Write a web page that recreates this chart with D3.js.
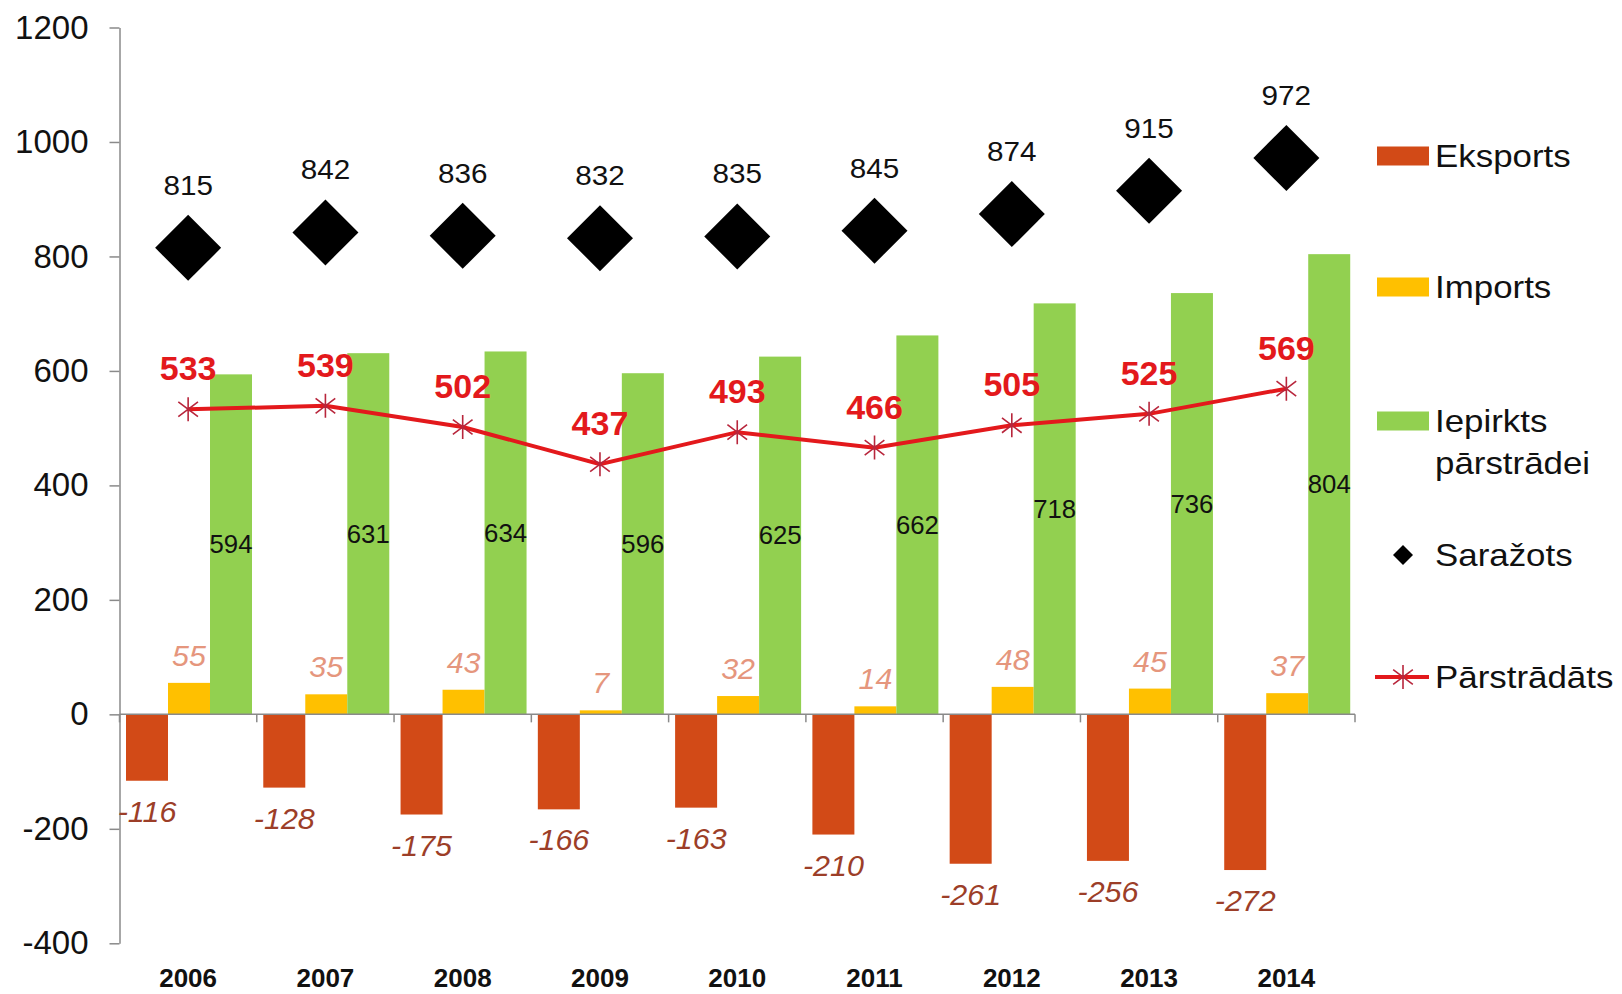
<!DOCTYPE html>
<html>
<head>
<meta charset="utf-8">
<script src="https://cdn.jsdelivr.net/npm/d3@7"></script>
<style>
  body { margin: 0; background: #fff; }
  text { font-family: "Liberation Sans", Arial, sans-serif; }
</style>
</head>
<body>
<svg id="chart" width="1622" height="994"></svg>
<script>
const years = ["2006", "2007", "2008", "2009", "2010", "2011", "2012", "2013", "2014"];
const eksports = [-116, -128, -175, -166, -163, -210, -261, -256, -272];
const imports = [55, 35, 43, 7, 32, 14, 48, 45, 37];
const iepirkts = [594, 631, 634, 596, 625, 662, 718, 736, 804];
const sarazots = [815, 842, 836, 832, 835, 845, 874, 915, 972];
const parstradats = [533, 539, 502, 437, 493, 466, 505, 525, 569];
const yTicks = [-400, -200, 0, 200, 400, 600, 800, 1000, 1200];

const colors = { eksports: "#d24a17", imports: "#ffc000", iepirkts: "#92d050", line: "#e3191c" };

const svg = d3.select("#chart");

const x = d3.scaleBand().domain(years).range([119.5, 1355]).padding(0);
const xBar = d3.scaleBand().domain(["eksports", "imports", "iepirkts"]).range([6.5, 132.5]);
const y = d3.scaleLinear().domain([-400, 1200]).range([943.3, 27.5]);

// little helper: place a text and stretch it a bit horizontally like the original
function place(sel, px, py, sx) {
  return sel.attr("transform", d => `translate(${px(d)},${py(d)}) scale(${sx},1)`);
}

// y axis
const yAxis = svg.append("g")
  .attr("transform", `translate(${x.range()[0]},0)`)
  .call(d3.axisLeft(y).tickValues(yTicks).tickFormat(d => String(d))
    .tickSize(10).tickSizeOuter(0).tickPadding(21));
yAxis.select(".domain").attr("stroke", "#8a8a8a").attr("stroke-width", 1.5);
yAxis.selectAll(".tick line").attr("stroke", "#8a8a8a").attr("stroke-width", 1.5);
yAxis.selectAll(".tick text")
  .attr("font-family", "Liberation Sans, Arial, sans-serif")
  .attr("font-size", 33).attr("fill", "#111");

// bars
const rows = years.map((yr, i) => ({ year: yr, eksports: eksports[i], imports: imports[i], iepirkts: iepirkts[i] }));
const groups = svg.append("g").selectAll("g").data(rows).join("g")
  .attr("transform", d => `translate(${x(d.year)},0)`);

groups.selectAll("rect")
  .data(d => ["eksports", "imports", "iepirkts"].map(k => ({ key: k, value: d[k] })))
  .join("rect")
  .attr("x", d => xBar(d.key))
  .attr("width", xBar.bandwidth())
  .attr("y", d => y(Math.max(0, d.value)))
  .attr("height", d => Math.abs(y(d.value) - y(0)))
  .attr("fill", d => colors[d.key]);

// x axis line at zero
svg.append("line")
  .attr("x1", x.range()[0]).attr("x2", x.range()[1])
  .attr("y1", y(0)).attr("y2", y(0))
  .attr("stroke", "#8a8a8a").attr("stroke-width", 1.5);
svg.append("g").selectAll("line")
  .data(years.map(d => x(d)).concat([x.range()[1]]))
  .join("line")
  .attr("x1", d => d).attr("x2", d => d)
  .attr("y1", y(0)).attr("y2", y(0) + 8)
  .attr("stroke", "#8a8a8a").attr("stroke-width", 1.5);

// year labels
svg.append("g").selectAll("text").data(years).join("text")
  .attr("x", d => x(d) + x.bandwidth() / 2)
  .attr("y", 987)
  .attr("text-anchor", "middle")
  .attr("font-size", 26).attr("font-weight", "bold").attr("fill", "#111")
  .text(d => d);

// bar labels
groups.append("text")
  .call(place, d => xBar("iepirkts") + xBar.bandwidth() / 2, d => (y(d.iepirkts) + y(0)) / 2 + 9, 1.03)
  .attr("text-anchor", "middle").attr("font-size", 25).attr("fill", "#111")
  .text(d => d.iepirkts);

groups.append("text")
  .call(place, d => xBar("imports") + xBar.bandwidth() / 2, d => y(d.imports) - 17, 1.05)
  .attr("text-anchor", "middle").attr("font-size", 29).attr("font-style", "italic").attr("fill", "#e5967d")
  .text(d => d.imports);

groups.append("text")
  .call(place, d => xBar("eksports") + xBar.bandwidth() / 2, d => y(d.eksports) + 41, 1.05)
  .attr("text-anchor", "middle").attr("font-size", 29).attr("font-style", "italic").attr("fill", "#9c3e28")
  .text(d => d.eksports);

const cx = d => x(d) + x.bandwidth() / 2;

// Pārstrādāts line
const line = d3.line().x((d, i) => cx(years[i])).y(d => y(d));
svg.append("path")
  .datum(parstradats)
  .attr("d", line)
  .attr("fill", "none").attr("stroke", colors.line).attr("stroke-width", 4);

function starPath(r) {
  const a = r * 0.82, b = r * 0.62;
  return `M0,${-r}L0,${r}M${-a},${-b}L${a},${b}M${-a},${b}L${a},${-b}`;
}
svg.append("g").selectAll("path").data(parstradats).join("path")
  .attr("transform", (d, i) => `translate(${cx(years[i])},${y(d)})`)
  .attr("d", starPath(12))
  .attr("stroke", "#b8263c").attr("stroke-width", 1.6).attr("fill", "none");

svg.append("g").selectAll("text").data(parstradats).join("text")
  .attr("x", (d, i) => cx(years[i]))
  .attr("y", d => y(d) - 29)
  .attr("text-anchor", "middle")
  .attr("font-size", 34).attr("font-weight", "bold").attr("fill", "#e3191c")
  .text(d => d);

// Saražots diamonds
const dr = 33;
svg.append("g").selectAll("path").data(sarazots).join("path")
  .attr("transform", (d, i) => `translate(${cx(years[i])},${y(d)})`)
  .attr("d", `M0,${-dr}L${dr},0L0,${dr}L${-dr},0Z`)
  .attr("fill", "#000");

svg.append("g").selectAll("text").data(sarazots).join("text")
  .attr("transform", (d, i) => `translate(${cx(years[i])},${y(d) - 53}) scale(1.06,1)`)
  .attr("text-anchor", "middle")
  .attr("font-size", 28).attr("fill", "#111")
  .text(d => d);

// legend
const legend = svg.append("g");
const lx = 1377, lw = 52, tx = 1435;
const legendRects = [
  { key: "eksports", cy: 156, lines: ["Eksports"] },
  { key: "imports", cy: 287, lines: ["Imports"] },
  { key: "iepirkts", cy: 421, lines: ["Iepirkts", "pārstrādei"] }
];
legendRects.forEach(item => {
  legend.append("rect")
    .attr("x", lx).attr("y", item.cy - 9.5).attr("width", lw).attr("height", 19)
    .attr("fill", colors[item.key]);
  item.lines.forEach((t, j) => {
    legend.append("text")
      .attr("transform", `translate(${tx},${item.cy + 11 + j * 42}) scale(1.09,1)`)
      .attr("font-size", 32).attr("fill", "#111")
      .text(t);
  });
});

legend.append("path")
  .attr("transform", `translate(${lx + lw / 2},555)`)
  .attr("d", "M0,-10L10,0L0,10L-10,0Z")
  .attr("fill", "#000");
legend.append("text")
  .attr("transform", `translate(${tx},566) scale(1.09,1)`)
  .attr("font-size", 32).attr("fill", "#111")
  .text("Saražots");

legend.append("line")
  .attr("x1", lx - 2).attr("x2", lx + lw).attr("y1", 677).attr("y2", 677)
  .attr("stroke", colors.line).attr("stroke-width", 4);
legend.append("path")
  .attr("transform", `translate(${lx + lw / 2},677)`)
  .attr("d", starPath(12))
  .attr("stroke", "#b8263c").attr("stroke-width", 1.6).attr("fill", "none");
legend.append("text")
  .attr("transform", `translate(${tx},688) scale(1.09,1)`)
  .attr("font-size", 32).attr("fill", "#111")
  .text("Pārstrādāts");
</script>
</body>
</html>
